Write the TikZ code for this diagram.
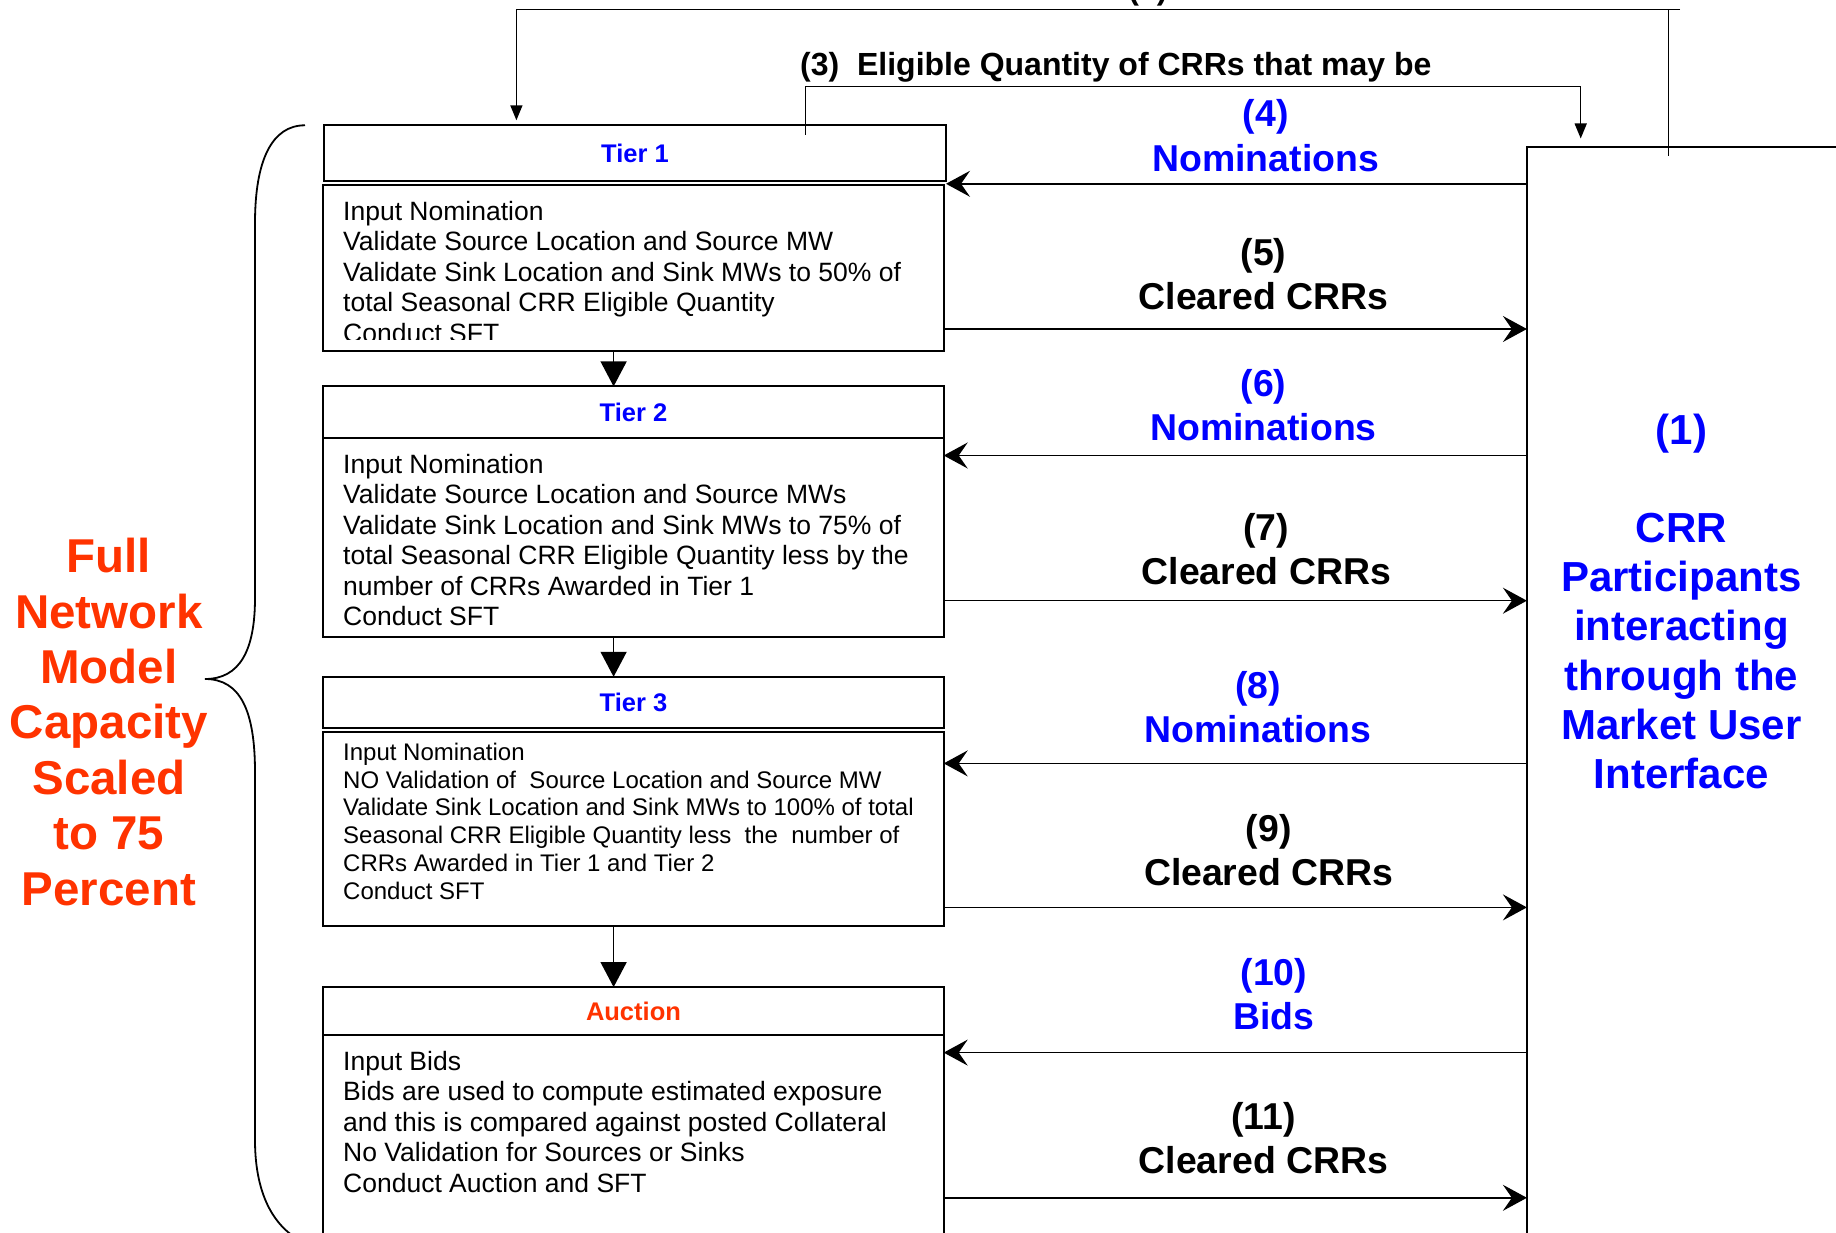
\documentclass[tikz,border=0pt]{standalone}
\usepackage{fontspec}
\setmainfont{Liberation Sans}
\usetikzlibrary{arrows.meta}
\definecolor{myblue}{RGB}{0,0,255}
\definecolor{myred}{RGB}{255,51,0}
\begin{document}
\begin{tikzpicture}[x=1pt,y=-1pt,
  box/.style={draw, line width=2pt, inner sep=0pt, outer sep=0pt, anchor=north west},
  hdr/.style={box, minimum width=620.5pt, font=\bfseries\fontsize{25.5}{30}\selectfont, text=myblue},
  bodytxt/.style={font=\fontsize{26.5}{30.4}\selectfont, align=left, inner sep=0pt, anchor=north west},
  smalltxt/.style={font=\fontsize{24}{27.7}\selectfont, align=left, inner sep=0pt, anchor=north west},
  lbl/.style={font=\bfseries\fontsize{37.4}{44.5}\selectfont, align=center, inner sep=0pt, anchor=north},
  conn/.style={line width=1.5pt},
  harrow/.style={conn, -{Stealth[length=24pt,width=26pt,inset=9pt]}},
  varrow/.style={conn, -{Triangle[length=25pt,width=26pt]}},
  sarrow/.style={conn, -{Triangle[length=15pt,width=12pt]}},
]
\useasboundingbox (0,0) rectangle (1836,1233);

% boxes
\node[hdr, minimum width=622pt, minimum height=55.5pt, line width=2.2pt] (t1h) at (324,125.3) {Tier 1};
\node[box, minimum width=620.5pt, minimum height=166pt, line width=1.8pt] (t1b) at (323.2,185.3) {};
\node[hdr, minimum height=51.5pt] (t2h) at (323.2,386.4) {Tier 2};
\node[box, minimum width=620.5pt, minimum height=199.1pt] (t2b) at (323.2,437.9) {};
\node[hdr, minimum height=51.5pt] (t3h) at (323.2,676.8) {Tier 3};
\node[box, minimum width=620.5pt, minimum height=194.4pt] (t3b) at (323.2,731.8) {};
\node[hdr, minimum height=48pt, text=myred] (auh) at (323.2,987.1) {Auction};
\node[box, minimum width=620.5pt, minimum height=260pt] (aub) at (323.2,1035.1) {};
\node[box, minimum width=400pt, minimum height=1200pt] (crr) at (1526.9,147.5) {};

% body texts
\begin{scope}
\clip (323,185) rectangle (944,339.5);
\node[bodytxt] (t1t) at (343,201) {Input Nomination\\Validate Source Location and Source MW\\Validate Sink Location and Sink MWs to 50\% of\\total Seasonal CRR Eligible Quantity\\Conduct SFT};
\end{scope}
\node[bodytxt] (t2t) at (343,454) {Input Nomination\\Validate Source Location and Source MWs\\Validate Sink Location and Sink MWs to 75\% of\\total Seasonal CRR Eligible Quantity less by the\\number of CRRs Awarded in Tier 1\\Conduct SFT};
\node[smalltxt] (t3t) at (343,743) {Input Nomination\\NO Validation of~ Source Location and Source MW\\Validate Sink Location and Sink MWs to 100\% of total\\Seasonal CRR Eligible Quantity less~ the~ number of\\CRRs Awarded in Tier 1 and Tier 2\\Conduct SFT};
\node[bodytxt] (aut) at (343,1051) {Input Bids\\Bids are used to compute estimated exposure\\and this is compared against posted Collateral\\No Validation for Sources or Sinks\\Conduct Auction and SFT};

% left label and brace
\node[font=\bfseries\fontsize{47.5}{55.4}\selectfont, text=myred, align=center, inner sep=0pt, anchor=north] (fnm) at (108.9,538) {Full\\Network\\Model\\Capacity\\Scaled\\to 75\\Percent};
\draw[line width=1.8pt] (305,125.3) .. controls (272,125.3) and (255,160) .. (255,223) -- (255,598) .. controls (255,650) and (240,679) .. (205,679) .. controls (240,679) and (255,710) .. (255,772) -- (255,1140) .. controls (255,1185) and (268,1220) .. (296,1238);

% CRR text
\node[font=\bfseries\fontsize{42}{49.2}\selectfont, text=myblue, align=center, inner sep=0pt, anchor=north] (crrt) at (1681.4,413.5) {(1)\\ \\CRR\\Participants\\interacting\\through the\\Market User\\Interface};

% top connectors
\coordinate (c2a) at (1668.5,155.7);
\coordinate (c2b) at (1668.5,9.4);
\coordinate (c2e) at (1680.2,9.4);
\coordinate (c2l) at (516.4,9.4);
\draw[conn] (c2a) -- (c2b);
\draw[sarrow, shorten >=5pt] (c2e) -- (c2l) -- (c2l |- t1h.north);
\node[font=\bfseries\fontsize{32}{36}\selectfont, inner sep=0pt, anchor=base] (l2) at (1148,0) {(2)};

\coordinate (c3a) at (805.6,134.7);
\coordinate (c3b) at (805.6,86.6);
\coordinate (c3c) at (1580.7,86.6);
\draw[sarrow, shorten >=9pt] (c3a) -- (c3b) -- (c3c) -- (c3c |- crr.north);
\node[font=\bfseries\fontsize{32}{36}\selectfont, inner sep=0pt, anchor=base west] (l3) at (800,76) {(3)~ Eligible Quantity of CRRs that may be};

% vertical tier arrows
\draw[varrow] (t1b.south -| 613.6,0) -- (t2h.north -| 613.6,0);
\draw[varrow] (t2b.south -| 613.6,0) -- (t3h.north -| 613.6,0);
\draw[varrow] (t3b.south -| 613.6,0) -- (auh.north -| 613.6,0);

% horizontal arrows
\coordinate (a4) at (0,183.8);
\coordinate (a5) at (0,329.0);
\coordinate (a6) at (0,455.5);
\coordinate (a7) at (0,600.7);
\coordinate (a8) at (0,763.4);
\coordinate (a9) at (0,907.4);
\coordinate (a10) at (0,1052.6);
\coordinate (a11) at (0,1197.8);
\draw[harrow] (crr.west |- a4) -- (t1h.east |- a4);
\draw[harrow] (t1b.east |- a5) -- (crr.west |- a5);
\draw[harrow] (crr.west |- a6) -- (t2b.east |- a6);
\draw[harrow] (t2b.east |- a7) -- (crr.west |- a7);
\draw[harrow] (crr.west |- a8) -- (t3b.east |- a8);
\draw[harrow] (t3b.east |- a9) -- (crr.west |- a9);
\draw[harrow] (crr.west |- a10) -- (aub.east |- a10);
\draw[harrow] (aub.east |- a11) -- (crr.west |- a11);

% arrow labels
\node[lbl, text=myblue] (n4) at (1265.7,99.5) {(4)\\Nominations};
\node[lbl] (n5) at (1263.4,237.8) {(5)\\Cleared CRRs};
\node[lbl, text=myblue] (n6) at (1263.4,369) {(6)\\Nominations};
\node[lbl] (n7) at (1266.3,513) {(7)\\Cleared CRRs};
\node[lbl, text=myblue] (n8) at (1258.1,671) {(8)\\Nominations};
\node[lbl] (n9) at (1268.7,813.9) {(9)\\Cleared CRRs};
\node[lbl, text=myblue] (n10) at (1273.9,957.9) {(10)\\Bids};
\node[lbl] (n11) at (1263.4,1101.9) {(11)\\Cleared CRRs};
\end{tikzpicture}
\end{document}
